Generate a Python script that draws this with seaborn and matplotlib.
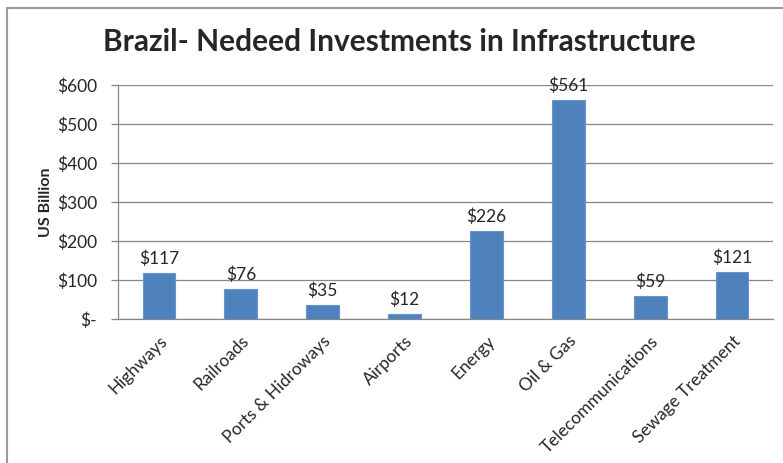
import matplotlib
matplotlib.use("Agg")
import matplotlib.pyplot as plt
from matplotlib.lines import Line2D
from matplotlib.ticker import FixedLocator
import seaborn as sns
import pandas as pd
import numpy as np

categories = ["Highways", "Railroads", "Ports & Hidroways", "Airports", "Energy",
              "Oil & Gas", "Telecommunications", "Sewage Treatment"]
investments = [117, 76, 35, 12, 226, 561, 59, 121]
yticks = [0, 100, 200, 300, 400, 500, 600]
ytick_labels = ["$-", "$100", "$200", "$300", "$400", "$500", "$600"]

df = pd.DataFrame({"category": categories, "value": investments})

sns.set_style("white")
plt.rcParams["font.family"] = ["Lato", "DejaVu Sans"]

fig = plt.figure(figsize=(7.83, 4.63), dpi=100)
ax = fig.add_axes([0.1507, 0.311, 0.8365, 0.5054])

sns.barplot(data=df, x="category", y="value", color="#4F81BD", width=0.4,
            edgecolor="#6A95CC", linewidth=0.8, saturation=1, ax=ax, zorder=3)

ax.set_ylim(0, 600)
ax.set_xlim(-0.5, len(categories) - 0.5)
ax.set_yticks(yticks)
ax.set_yticklabels(ytick_labels, fontsize=12.5)
ax.yaxis.grid(True, color="#868686", linewidth=0.9, zorder=0)
ax.set_axisbelow(True)

for i, v in enumerate(investments):
    ax.text(i, v + 16, f"${v}", ha="center", va="bottom", fontsize=12.5)

ax.set_xticks(range(len(categories)))
ax.set_xticklabels(categories, rotation=45, ha="right", rotation_mode="anchor", fontsize=12.5)
ax.xaxis.set_minor_locator(FixedLocator(np.arange(-0.5, len(categories), 1)))
ax.tick_params(axis="x", which="major", length=0, pad=10)
ax.tick_params(axis="x", which="minor", length=5, color="#868686", width=0.9, direction="out")
ax.tick_params(axis="y", length=5, color="#868686", width=0.9, direction="out", left=True, pad=10)

for side in ["top", "right"]:
    ax.spines[side].set_visible(False)
for side in ["left", "bottom"]:
    ax.spines[side].set_color("#868686")
    ax.spines[side].set_linewidth(0.9)

ax.set_xlabel("")
ax.set_ylabel("US Billion", fontsize=11.5, fontweight="bold", labelpad=3)

fig.suptitle("Brazil- Nedeed Investments in Infrastructure", fontsize=21.5,
             fontweight="bold", x=0.51, y=0.94)

# outer chart border (top and left edges visible)
fig.add_artist(Line2D([0.009, 1.0], [0.983, 0.983], color="#9A9A9A", linewidth=1.5))
fig.add_artist(Line2D([0.009, 0.009], [0.0, 0.983], color="#9A9A9A", linewidth=1.5))

fig.savefig("out.png", dpi=100)
